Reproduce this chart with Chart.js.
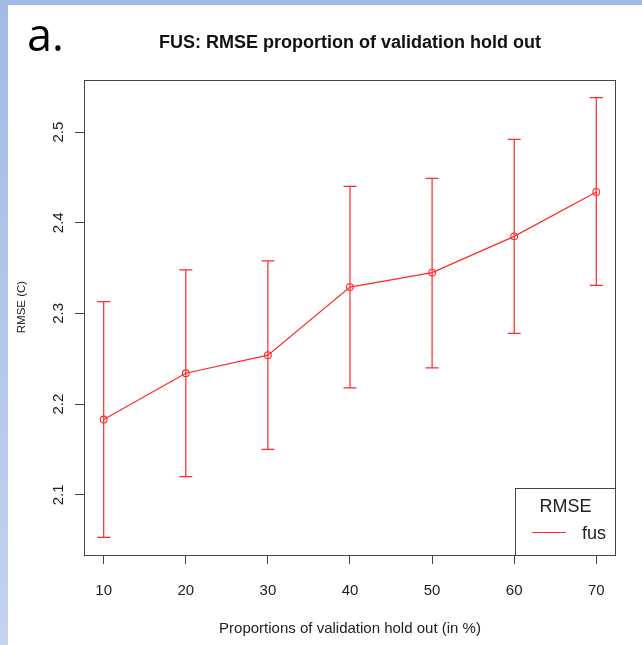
<!DOCTYPE html>
<html>
<head>
<meta charset="utf-8">
<script src="https://cdn.jsdelivr.net/npm/chart.js@4/dist/chart.umd.min.js"></script>
<style>
  html, body { margin: 0; padding: 0; background: #ffffff; }
  canvas { display: block; }
</style>
</head>
<body>
<canvas id="c" width="642" height="645"></canvas>
<script>
// Proportion of validation hold out (%) and the resulting RMSE for "fus"
const holdOut = [10, 20, 30, 40, 50, 60, 70];
const rmseMean = [2.183, 2.234, 2.254, 2.329, 2.345, 2.385, 2.434];
const rmseLower = [2.053, 2.120, 2.150, 2.218, 2.240, 2.278, 2.331];
const rmseUpper = [2.313, 2.348, 2.358, 2.440, 2.449, 2.492, 2.538];

const xTickValues = [10, 20, 30, 40, 50, 60, 70];
const yTickValues = [2.1, 2.2, 2.3, 2.4, 2.5];

const panelLabel = 'a.';
const chartTitle = 'FUS: RMSE proportion of validation hold out';
const xTitle = 'Proportions of validation hold out (in %)';
const yTitle = 'RMSE (C)';
const legendTitle = 'RMSE';
const seriesName = 'fus';

const RED = '#ff2a2a';
const AXIS = '#444444';
const SANS = '"Liberation Sans", Arial, Helvetica, sans-serif';

// R-style axis ranges: data extent (incl. error bars) widened by 4% each side
function padRange(lo, hi) {
  const d = (hi - lo) * 0.04;
  return [lo - d, hi + d];
}
const [xMin, xMax] = padRange(Math.min(...holdOut), Math.max(...holdOut));
const [yMin, yMax] = padRange(Math.min(...rmseLower), Math.max(...rmseUpper));

const framePlugin = {
  id: 'frame',
  beforeDraw(chart) {
    const { ctx, width, height } = chart;
    ctx.save();
    ctx.fillStyle = '#ffffff';
    ctx.fillRect(0, 0, width, height);
    // slide-style blue edge along the top and left
    const g = ctx.createLinearGradient(0, 0, 0, height);
    g.addColorStop(0, '#a2bbe5');
    g.addColorStop(1, '#c3d3f0');
    ctx.fillStyle = g;
    ctx.fillRect(0, 0, 8, height);
    ctx.fillStyle = '#a2bbe5';
    ctx.fillRect(0, 0, width, 5);
    ctx.restore();
  }
};

const errorBarPlugin = {
  id: 'errorBars',
  beforeDatasetsDraw(chart) {
    const { ctx } = chart;
    const xs = chart.scales.x, ys = chart.scales.y;
    ctx.save();
    ctx.strokeStyle = RED;
    ctx.lineWidth = 1.2;
    holdOut.forEach((h, i) => {
      const px = xs.getPixelForValue(h);
      const pl = ys.getPixelForValue(rmseLower[i]);
      const pu = ys.getPixelForValue(rmseUpper[i]);
      ctx.beginPath();
      ctx.moveTo(px, pl); ctx.lineTo(px, pu);
      ctx.moveTo(px - 6.5, pl); ctx.lineTo(px + 6.5, pl);
      ctx.moveTo(px - 6.5, pu); ctx.lineTo(px + 6.5, pu);
      ctx.stroke();
    });
    ctx.restore();
  }
};

const annotatePlugin = {
  id: 'annotate',
  afterDraw(chart) {
    const { ctx, chartArea: a } = chart;
    const xs = chart.scales.x, ys = chart.scales.y;
    ctx.save();

    // plot box
    ctx.strokeStyle = AXIS;
    ctx.lineWidth = 1;
    ctx.strokeRect(Math.round(a.left) + 0.5, Math.round(a.top) + 0.5,
                   Math.round(a.right - a.left) - 1, Math.round(a.bottom - a.top));

    ctx.fillStyle = '#222222';

    // x tick labels
    ctx.font = '15px ' + SANS;
    ctx.textAlign = 'center';
    ctx.textBaseline = 'alphabetic';
    xs.ticks.forEach(t => {
      ctx.fillText(String(t.value), xs.getPixelForValue(t.value), 595);
    });

    // y tick labels, rotated
    ys.ticks.forEach(t => {
      ctx.save();
      ctx.translate(63, ys.getPixelForValue(t.value));
      ctx.rotate(-Math.PI / 2);
      ctx.fillText(t.value.toFixed(1), 0, 0);
      ctx.restore();
    });

    // axis titles
    ctx.fillText(xTitle, (a.left + a.right) / 2, 633);
    ctx.save();
    ctx.font = '11.5px ' + SANS;
    ctx.translate(25, 307);
    ctx.rotate(-Math.PI / 2);
    ctx.fillText(yTitle, 0, 0);
    ctx.restore();

    // main title
    ctx.fillStyle = '#111111';
    ctx.font = 'bold 18px ' + SANS;
    ctx.fillText(chartTitle, (a.left + a.right) / 2, 48);

    // panel letter
    ctx.textAlign = 'left';
    ctx.fillStyle = '#000000';
    ctx.font = '45px "Open Sans", "DejaVu Sans", sans-serif';
    ctx.fillText(panelLabel, 27, 51);

    // legend box in bottom-right corner of the plot
    const lx = 515.5, ly = 488.5;
    ctx.fillStyle = '#ffffff';
    ctx.fillRect(lx, ly, a.right - lx, a.bottom - ly);
    ctx.strokeStyle = AXIS;
    ctx.strokeRect(lx, ly, Math.round(a.right) - 0.5 - lx, Math.round(a.bottom) + 0.5 - ly);
    ctx.fillStyle = '#222222';
    ctx.font = '18px ' + SANS;
    ctx.textAlign = 'center';
    ctx.fillText(legendTitle, 565.5, 512);
    ctx.textAlign = 'left';
    ctx.fillText(seriesName, 582, 539);
    ctx.strokeStyle = RED;
    ctx.lineWidth = 1.2;
    ctx.beginPath();
    ctx.moveTo(532, 532.5);
    ctx.lineTo(566, 532.5);
    ctx.stroke();

    ctx.restore();
  }
};

new Chart(document.getElementById('c'), {
  type: 'line',
  data: {
    datasets: [{
      label: seriesName,
      data: holdOut.map((h, i) => ({ x: h, y: rmseMean[i] })),
      borderColor: RED,
      borderWidth: 1.2,
      pointStyle: 'circle',
      pointRadius: 3.4,
      pointBorderWidth: 1.1,
      pointBorderColor: RED,
      pointBackgroundColor: 'rgba(0,0,0,0)',
      tension: 0,
      fill: false
    }]
  },
  options: {
    responsive: false,
    animation: false,
    devicePixelRatio: 1,
    layout: { padding: { left: 84, right: 26, top: 80, bottom: 90 } },
    plugins: {
      legend: { display: false },
      title: { display: false },
      tooltip: { enabled: false }
    },
    scales: {
      x: {
        type: 'linear',
        min: xMin,
        max: xMax,
        afterBuildTicks: s => { s.ticks = xTickValues.map(v => ({ value: v })); },
        afterFit: s => { s.height = 0; },
        ticks: { display: false },
        border: { display: false },
        grid: { drawOnChartArea: false, drawTicks: true, tickLength: 9, color: AXIS, lineWidth: 1 }
      },
      y: {
        type: 'linear',
        min: yMin,
        max: yMax,
        afterBuildTicks: s => { s.ticks = yTickValues.map(v => ({ value: v })); },
        afterFit: s => { s.width = 0; },
        ticks: { display: false },
        border: { display: false },
        grid: { drawOnChartArea: false, drawTicks: true, tickLength: 9, color: AXIS, lineWidth: 1 }
      }
    }
  },
  plugins: [framePlugin, errorBarPlugin, annotatePlugin]
});
</script>
</body>
</html>
